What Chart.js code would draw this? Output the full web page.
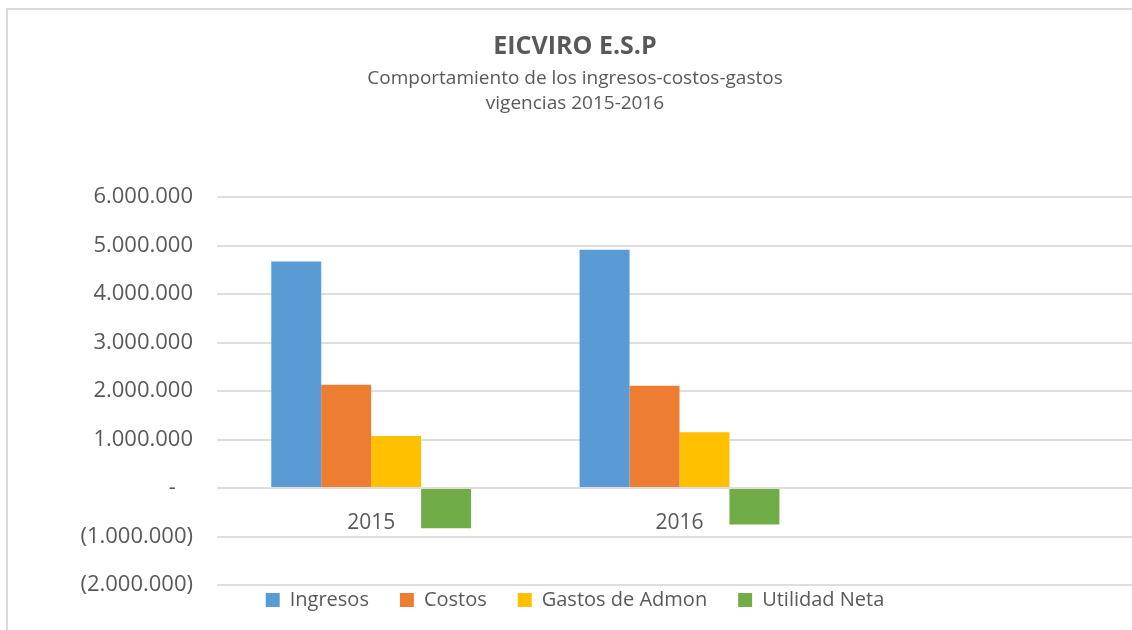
<!DOCTYPE html>
<html>
<head>
<meta charset="utf-8">
<script src="https://cdn.jsdelivr.net/npm/chart.js@4.4.1/dist/chart.umd.min.js"></script>
<style>
  html, body { margin: 0; padding: 0; background: #fff; overflow: hidden; }
  #frame {
    position: absolute; left: 6px; top: 8px;
    width: 1144px; height: 620px;
    border-left: 2px solid #d9d9d9; border-top: 2px solid #d9d9d9;
  }
</style>
</head>
<body>
<div id="frame"><canvas id="chart"></canvas></div>
<script>
// vigencias (the third slot is empty, as in the original sheet)
const years = ['2015', '2016', ''];

const ingresos = [4670000, 4910000];
const costos = [2130000, 2110000];
const gastosAdmon = [1070000, 1150000];
const utilidadNeta = [-830000, -750000];

const seriesNames = ['Ingresos', 'Costos', 'Gastos de Admon', 'Utilidad Neta'];
const seriesColors = ['#5b9bd5', '#ed7d31', '#ffc000', '#70ad47'];

const yMin = -2000000;
const yMax = 6000000;
const yStep = 1000000;

const textGray = '#595959';
const font = "'Open Sans', sans-serif";

function fmt(v) {
    if (v === 0) return '-   ';
    let s = Math.abs(v).toString().replace(/\B(?=(\d{3})+(?!\d))/g, '.');
    return v < 0 ? '(' + s + ')' : s;
}

const allSeries = [ingresos, costos, gastosAdmon, utilidadNeta];

new Chart(document.getElementById('chart'), {
    type: 'bar',
    data: {
        labels: years,
        datasets: allSeries.map((d, i) => ({
            label: seriesNames[i],
            data: d,
            backgroundColor: seriesColors[i],
            borderWidth: 0,
            categoryPercentage: 0.648,
            barPercentage: 1
        }))
    },
    options: {
        responsive: true,
        maintainAspectRatio: false,
        animation: false,
        layout: { padding: { left: 0, right: 10, top: 0, bottom: 10 } },
        plugins: {
            title: {
                display: true,
                text: 'EICVIRO E.S.P',
                color: textGray,
                font: { family: font, size: 25, weight: 'bold', lineHeight: 1.2 },
                padding: { top: 22, bottom: 0 }
            },
            subtitle: {
                display: true,
                text: ['Comportamiento de los ingresos-costos-gastos', 'vigencias 2015-2016'],
                color: textGray,
                font: { family: font, size: 19, lineHeight: '25px' },
                padding: { top: 4, bottom: 81 }
            },
            legend: {
                position: 'bottom',
                labels: {
                    color: textGray,
                    font: { family: font, size: 20 },
                    boxWidth: 14,
                    boxHeight: 14,
                    padding: 5,
                    generateLabels: (chart) => seriesNames.map((name, i) => ({
                        text: i < seriesNames.length - 1 ? name + '     ' : name,
                        fillStyle: seriesColors[i],
                        strokeStyle: seriesColors[i],
                        lineWidth: 0,
                        fontColor: textGray,
                        datasetIndex: i,
                        hidden: false
                    }))
                }
            },
            tooltip: { enabled: false }
        },
        scales: {
            x: {
                position: { y: 0 },
                grid: { display: false },
                border: { display: false },
                ticks: {
                    color: textGray,
                    font: { family: font, size: 21 },
                    padding: 14
                }
            },
            y: {
                min: yMin,
                max: yMax,
                grid: { color: '#dedede', lineWidth: 2, drawTicks: false },
                border: { display: false },
                ticks: {
                    stepSize: yStep,
                    color: textGray,
                    font: { family: font, size: 22 },
                    padding: 24,
                    callback: (v) => fmt(v)
                },
                afterFit: (scale) => { scale.width = 209; }
            }
        }
    }
});
</script>
</body>
</html>
